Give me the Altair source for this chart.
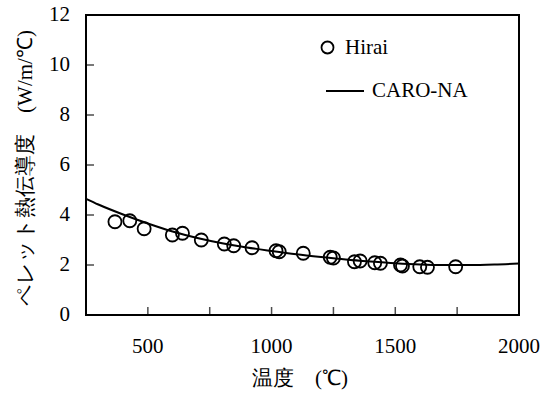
import altair as alt
import pandas as pd

# Hirai measured data (temperature in C, conductivity W/m/C)
hirai_T = [367, 427, 485, 599, 640, 716, 809, 847, 921, 1018, 1031, 1128,
           1237, 1250, 1335, 1358, 1417, 1440, 1521, 1529, 1599, 1630, 1744]
hirai_k = [3.73, 3.77, 3.45, 3.20, 3.27, 3.00, 2.84, 2.77, 2.69, 2.57, 2.53, 2.47,
           2.31, 2.28, 2.13, 2.16, 2.09, 2.07, 2.00, 1.96, 1.93, 1.91, 1.93]

# CARO-NA model curve
model_T = [250, 300, 400, 500, 600, 700, 800, 900, 1000, 1100, 1200, 1300,
           1400, 1500, 1600, 1700, 1800, 1900, 2000]
model_k = [4.65, 4.42, 4.02, 3.66, 3.34, 3.08, 2.87, 2.70, 2.56, 2.43, 2.32, 2.22,
           2.14, 2.07, 2.02, 2.00, 2.00, 2.02, 2.06]

x_labels = [500, 1000, 1500, 2000]
x_ticks = [500, 750, 1000, 1250, 1500, 1750]
y_ticks = [0, 2, 4, 6, 8, 10, 12]
x_title = ["温度　(℃)"]
y_title = ["ペレット熱伝導度　(W/m/℃)"]

pts = pd.DataFrame({"T": hirai_T, "k": hirai_k, "src": ["Hirai"] * len(hirai_T)})
crv = pd.DataFrame({"T": model_T, "k": model_k, "model": ["CARO-NA"] * len(model_T)})
xt = pd.DataFrame({"T": x_ticks})
yt = pd.DataFrame({"k": y_ticks})
xl = pd.DataFrame({"T": x_labels})
yl = pd.DataFrame({"k": y_ticks})
xtt = pd.DataFrame({"t": x_title})
ytt = pd.DataFrame({"t": y_title})

FONT = "Liberation Serif"

xscale = alt.Scale(domain=[250, 2000], nice=False, zero=False)
yscale = alt.Scale(domain=[0, 12], nice=False)

points = alt.Chart(pts).mark_point(filled=False, color="black", strokeWidth=1.8, size=170, opacity=1).encode(
    x=alt.X("T:Q", scale=xscale, axis=None),
    y=alt.Y("k:Q", scale=yscale, axis=None),
    shape=alt.Shape("src:N", scale=alt.Scale(domain=["Hirai"], range=["circle"]),
                    legend=alt.Legend(title=None, orient="none", legendX=231, legendY=22,
                                      symbolSize=144, symbolStrokeWidth=1.8,
                                      symbolStrokeColor="black", symbolFillColor="transparent",
                                      labelFont=FONT, labelFontSize=21, labelColor="black",
                                      labelOffset=7, padding=0)),
)

line = alt.Chart(crv).mark_line(strokeWidth=2, interpolate="monotone").encode(
    x=alt.X("T:Q", scale=xscale, axis=None),
    y=alt.Y("k:Q", scale=yscale, axis=None),
    color=alt.Color("model:N", scale=alt.Scale(domain=["CARO-NA"], range=["black"]),
                    legend=alt.Legend(title=None, orient="none", legendX=239, legendY=56,
                                      symbolType="stroke", symbolSize=1444, symbolStrokeWidth=2,
                                      labelFont=FONT, labelFontSize=21, labelColor="black",
                                      labelOffset=7, padding=0)),
)

# inward tick marks drawn from the tick arrays through the scales
xtick_layer = alt.Chart(xt).mark_tick(orient="vertical", color="black", size=8, thickness=1.5).encode(
    x=alt.X("T:Q", scale=xscale, axis=None),
    y=alt.value(296),
)
ytick_layer = alt.Chart(yt).mark_tick(orient="horizontal", color="black", size=8, thickness=1.5).encode(
    y=alt.Y("k:Q", scale=yscale, axis=None),
    x=alt.value(4),
)

# tick labels placed through the scales
xlabel_layer = alt.Chart(xl).mark_text(font=FONT, fontSize=21, color="black", align="center",
                                       baseline="middle").encode(
    x=alt.X("T:Q", scale=xscale, axis=None),
    y=alt.value(332),
    text=alt.Text("T:Q", format="d"),
)
ylabel_layer = alt.Chart(yl).mark_text(font=FONT, fontSize=21, color="black", align="right",
                                       baseline="middle").encode(
    y=alt.Y("k:Q", scale=yscale, axis=None),
    x=alt.value(-16),
    text=alt.Text("k:Q", format="d"),
)

# axis titles
xtitle_layer = alt.Chart(xtt).mark_text(font=FONT, fontSize=21, color="black", align="center",
                                        baseline="middle").encode(
    x=alt.value(214), y=alt.value(364), text="t:N",
)
ytitle_layer = alt.Chart(ytt).mark_text(font=FONT, fontSize=21, color="black", align="center",
                                        baseline="middle", angle=270).encode(
    x=alt.value(-60), y=alt.value(153), text="t:N",
)

chart = alt.layer(line, points, xtick_layer, ytick_layer, xlabel_layer, ylabel_layer,
                  xtitle_layer, ytitle_layer).properties(
    width=433, height=300,
    autosize=alt.AutoSizeParams(type="none"),
    padding={"left": 86, "top": 15, "right": 33, "bottom": 81},
    background="white",
).configure_view(stroke="black", strokeWidth=2).resolve_legend(shape="independent", color="independent")

chart.save("out.html", embed_options={"renderer": "svg", "actions": False})
